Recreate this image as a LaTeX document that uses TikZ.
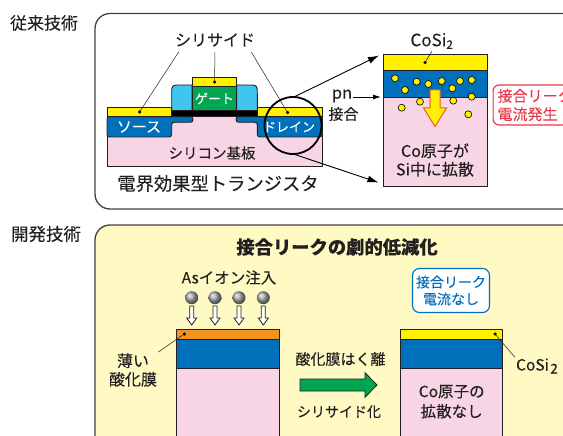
\documentclass[tikz,border=0pt]{standalone}
\usepackage{fontspec}
\setmainfont{Noto Sans CJK JP}[RawFeature={embolden=0.15}]
\usetikzlibrary{arrows.meta,positioning}

\definecolor{silicide}{RGB}{255,241,0}
\definecolor{diffusion}{RGB}{0,112,186}
\definecolor{substrate}{RGB}{248,213,228}
\definecolor{spacer}{RGB}{64,196,240}
\definecolor{gatecol}{RGB}{0,166,81}
\definecolor{oxide}{RGB}{246,146,30}
\definecolor{panelcol}{RGB}{255,249,196}
\definecolor{ink}{RGB}{35,31,32}
\definecolor{leak}{RGB}{232,56,72}
\definecolor{noleak}{RGB}{0,110,190}
\definecolor{arrowedge}{RGB}{238,90,36}

\newcommand{\jpsize}[2]{\fontsize{#1}{#2}\selectfont}

\tikzstyle{frame} = [draw=ink!85, line width=1.3pt, rounded corners=15pt]
\tikzstyle{layer} = [draw=ink, line width=0.9pt]
\tikzstyle{label} = [text=ink, inner sep=1pt]
\tikzstyle{tip} = [circle, fill=black, inner sep=0pt, minimum size=3.5pt]
\tikzstyle{atom} = [circle, draw=black, fill=silicide, line width=0.6pt, inner sep=0pt, minimum size=7pt]
\tikzstyle{ion} = [circle, ball color=gray!70, inner sep=0pt, minimum size=13pt]
\tikzstyle{leader} = [draw=ink, line width=0.5pt]

\begin{document}
\begin{tikzpicture}[x=1pt, y=-1pt, >={Latex[length=11pt,width=7pt]}]
\useasboundingbox (0,0) rectangle (563,436);

% --- conventional process ---
\node (Conventional) at (44,23) [label, font=\jpsize{17}{20}] {従来技術};
\draw[frame] (95,13.5) rectangle (620,209);

% transistor cross section
\filldraw[fill=substrate, layer] (107,110) rectangle (322,166);
\filldraw[fill=diffusion, layer, rounded corners=2.5pt] (107,116.7) -- (193,116.7) -- (193,122.3) -- (171.7,122.3) -- (171.7,137) -- (107,137) -- cycle;
\filldraw[fill=diffusion, layer, rounded corners=2.5pt] (322,116.7) -- (236,116.7) -- (236,122.3) -- (257.3,122.3) -- (257.3,137) -- (322,137) -- cycle;
\filldraw[fill=spacer, layer] (171.7,112) -- (171.7,94) .. controls (171.7,85) .. (180.7,85) -- (192,85) -- (192,112) -- cycle;
\filldraw[fill=spacer, layer] (257.3,112) -- (257.3,94) .. controls (257.3,85) .. (248.3,85) -- (236.7,85) -- (236.7,112) -- cycle;
\filldraw[fill=black, layer] (171.7,110) rectangle (257.3,116.7);
\filldraw[fill=silicide, layer] (107,107.7) rectangle (171.7,116.7);
\filldraw[fill=silicide, layer] (257.3,107.7) rectangle (322,116.7);
\filldraw[fill=gatecol, layer] (192,86.7) rectangle (236.7,110);
\filldraw[fill=silicide, layer] (192,77.3) rectangle (236.7,86.7);

\node (Source) at (139,127) [text=white, font=\jpsize{15}{17}] {ソース};
\node (Drain) at (289,127) [text=white, font=\jpsize{13}{15}] {ドレイン};
\node (Gate) at (214.5,98.5) [text=white, font=\jpsize{13}{15}] {ゲート};
\node (Substrate) at (212,153) [label, font=\jpsize{14.5}{17}] {シリコン基板};
\node (Transistor) at (218,183.5) [label, font=\jpsize{18.3}{20}] {電界効果型トランジスタ};

\node (Silicide) at (215,40) [label, inner sep=5pt, font=\jpsize{16}{18}] {シリサイド};
\node (SourceSi) at (139.5,112) [tip] {};
\node (GateSi) at (214.5,82) [tip] {};
\node (DrainSi) at (287.5,112.5) [tip] {};
\draw[leader] ([xshift=9pt]Silicide.south west) -- (SourceSi.center);
\draw[leader] (Silicide.south) -- (GateSi.center);
\draw[leader] ([xshift=-9pt]Silicide.south east) -- (DrainSi.center);

\node (Zoom) at (293,125.5) [circle, draw=black, line width=1.8pt, minimum size=57pt] {};
\coordinate (ZoomTop) at (379,55.5);
\coordinate (ZoomBottom) at (378.5,182.5);
\draw[->, line width=0.9pt] (Zoom.85) -- (ZoomTop);
\draw[->, line width=0.9pt] (Zoom.-85) -- (ZoomBottom);

% magnified drain
\filldraw[fill=substrate, layer] (383.5,97) rectangle (487,186.7);
\filldraw[fill=diffusion, layer] (383.5,70.5) rectangle (487,97);
\filldraw[fill=silicide, layer] (383.5,54.5) rectangle (487,70.5);

\node (CoSiTop) at (432,41) [label, inner sep=2pt, font=\jpsize{17}{19}] {CoSi\textsubscript{2}};
\node (CoSiDot) at (425,62.5) [tip] {};
\draw[leader] (CoSiTop.south) -- (CoSiDot.center);

\foreach \x/\y [count=\i] in {395/78.3, 416.7/81.7, 428.3/84, 441.7/81, 460/81, 471.7/80,
    405/90, 452.3/88.3, 471.7/96.7, 420/101.7, 453.3/100.7, 401.7/107.7, 468.3/114.3}
  \node (Co\i) at (\x,\y) [atom] {};

\filldraw[fill=silicide, draw=arrowedge, line width=1pt] (430,90) -- (440,90) -- (440,108) -- (446.5,108) -- (435,126.5) -- (423.5,108) -- (430,108) -- cycle;

\node (Diffusion) at (435,160) [label, align=center, font=\jpsize{16}{18.5}] {Co原子が\\Si中に拡散};

\node (PN) at (342,96) [label, font=\jpsize{16.5}{18}] {pn};
\coordinate (PNTip) at (381,97);
\draw[->, line width=0.9pt, >={Latex[length=8pt,width=5pt]}] (PN.east |- PNTip) -- (PNTip);
\node (PNJunction) at (343.5,114) [label, font=\jpsize{15}{17}] {接合};

\node (Leak) at (492.5,105) [anchor=west, draw=leak, line width=1.2pt, rounded corners=6pt, fill=white,
    text=leak, align=left, inner xsep=4.5pt, minimum height=40pt, font=\jpsize{15}{18.3}] {接合リーク\\電流発生};

% --- developed process ---
\node (Developed) at (46,234) [label, font=\jpsize{17.5}{20}] {開発技術};
\draw[frame, fill=panelcol] (95,225) rectangle (620,480);

\node (Title) at (337,247) [label, font=\bfseries\jpsize{18.3}{20}] {接合リークの劇的低減化};

\node (Ions) at (229,277.5) [label, font=\jpsize{15.5}{18}] {Asイオン注入};
\foreach \x [count=\i] in {191.7,215,239,263.3} {
  \node (Ion\i) at (\x,297.7) [ion] {};
  \filldraw[fill=white, draw=ink, line width=0.8pt] (\x-2,306) -- (\x+2,306) -- (\x+2,318) -- (\x+5,318) -- (\x,325) -- (\x-5,318) -- (\x-2,318) -- cycle;
}

% oxidised wafer
\filldraw[fill=substrate, layer] (176.7,368.3) rectangle (279,450);
\filldraw[fill=diffusion, layer] (176.7,339.3) rectangle (279,368.3);
\filldraw[fill=oxide, layer] (176.7,329) rectangle (279,339.3);
\node (OxideDot) at (184.3,334) [tip] {};
\node (ThinOxide) at (133,370) [label, align=center, font=\jpsize{16}{18.6}] {薄い\\酸化膜};
\draw[leader] (OxideDot.center) -- (ThinOxide.north east);

\node (Peel) at (340.5,359) [label, font=\jpsize{15}{17}] {酸化膜はく離};
\filldraw[fill=gatecol, draw=ink, line width=0.8pt] (300,379) -- (365,379) -- (365,372.7) -- (377,385) -- (365,397.3) -- (365,391) -- (300,391) -- cycle;
\node (Silicidation) at (339,411.7) [label, font=\jpsize{14}{16}] {シリサイド化};

% silicided wafer
\filldraw[fill=substrate, layer] (400,368.3) rectangle (502.7,450);
\filldraw[fill=diffusion, layer] (400,339.3) rectangle (502.7,368.3);
\filldraw[fill=silicide, layer] (400,329) rectangle (502.7,339.3);
\node (CoSiDot2) at (495,334) [tip] {};
\node (CoSiBottom) at (537,366) [label, font=\jpsize{15.5}{17}] {CoSi\kern1.5pt\raisebox{-3pt}{\jpsize{13.5}{13}2}};
\draw[leader] (CoSiDot2.center) -- (CoSiBottom.north west);

\node (NoDiffusion) at (451.7,401.7) [label, align=center, font=\jpsize{15.5}{20}] {Co原子の\\拡散なし};
\node (NoLeak) at (451,290.5) [draw=noleak, line width=1.1pt, rounded corners=7pt, fill=white, text=noleak,
    align=center, minimum width=77pt, minimum height=44pt, font=\jpsize{14}{17}] {接合リーク\\電流なし};

\end{tikzpicture}
\end{document}
